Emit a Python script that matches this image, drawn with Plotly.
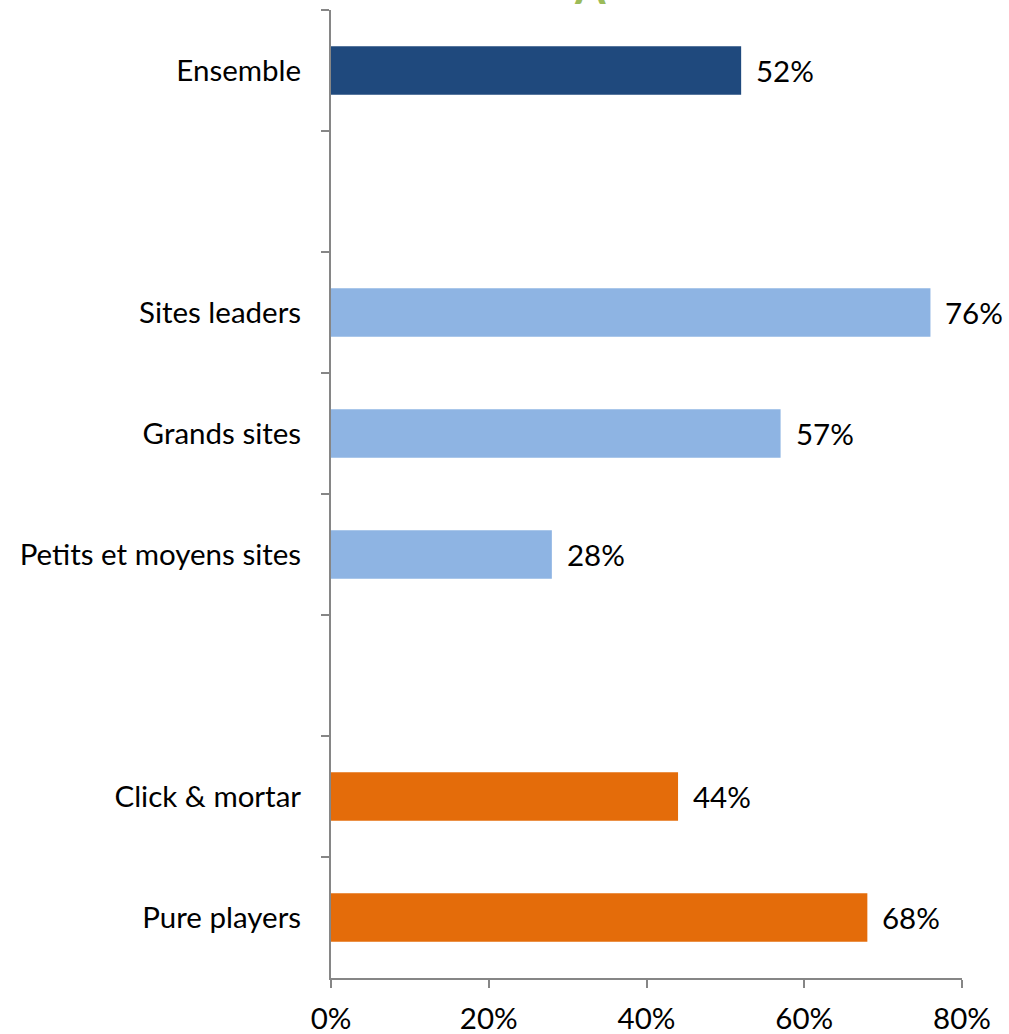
import plotly.graph_objects as go

# Categories top to bottom; the two blank entries separate the groups
categories = ["Ensemble", " ", "Sites leaders", "Grands sites",
              "Petits et moyens sites", "  ", "Click & mortar", "Pure players"]
values = [52, None, 76, 57, 28, None, 44, 68]
colors = ["#1F497D", "#FFFFFF", "#8EB4E3", "#8EB4E3", "#8EB4E3",
          "#FFFFFF", "#E46C0A", "#E46C0A"]
x_ticks = [0, 20, 40, 60, 80]
x_tick_labels = ["0%", "20%", "40%", "60%", "80%"]

FONT = "Lato"
FONT_SIZE = 29.5
AXIS_GRAY = "#868686"

fig = go.Figure(
    go.Bar(
        x=values,
        y=categories,
        orientation="h",
        marker=dict(color=colors, line=dict(width=0)),
        width=0.4,
        hoverinfo="skip",
    )
)

# Value labels just to the right of each bar end
for cat, val in zip(categories, values):
    if val is None:
        continue
    fig.add_annotation(
        x=val, y=cat, xref="x", yref="y",
        text=f"{val}%", showarrow=False,
        xanchor="left", yanchor="middle", xshift=13,
        font=dict(family=FONT, size=FONT_SIZE, color="#000000"),
    )

# Green heading above the plot, mostly beyond the top edge of the page
fig.add_annotation(
    x=0.41, y=1.0, xref="paper", yref="paper",
    text="<b>A</b>", showarrow=False,
    xanchor="center", yanchor="bottom", yshift=-5,
    font=dict(family=FONT, size=44, color="#9BBB59"),
)

fig.update_layout(
    width=1009, height=1034,
    margin=dict(l=331, r=47, t=10, b=56, autoexpand=False),
    paper_bgcolor="white", plot_bgcolor="white",
    showlegend=False,
    font=dict(family=FONT, size=FONT_SIZE, color="#000000"),
)

fig.update_xaxes(
    range=[0, 80],
    tickvals=x_ticks, ticktext=x_tick_labels,
    showgrid=False, zeroline=False,
    showline=True, linecolor=AXIS_GRAY, linewidth=2,
    ticks="outside", ticklen=8, tickwidth=2, tickcolor=AXIS_GRAY,
    tickfont=dict(family=FONT, size=FONT_SIZE, color="#000000"),
    ticklabelstandoff=6,
)

fig.update_yaxes(
    type="category",
    categoryorder="array", categoryarray=categories,
    autorange="reversed",
    showgrid=False, zeroline=False,
    showline=True, linecolor=AXIS_GRAY, linewidth=2,
    ticks="outside", ticklen=8, tickwidth=2, tickcolor=AXIS_GRAY,
    tickson="boundaries",
    tickfont=dict(family=FONT, size=FONT_SIZE, color="#000000"),
    ticklabelstandoff=22,
)

fig.write_html("out.html")
